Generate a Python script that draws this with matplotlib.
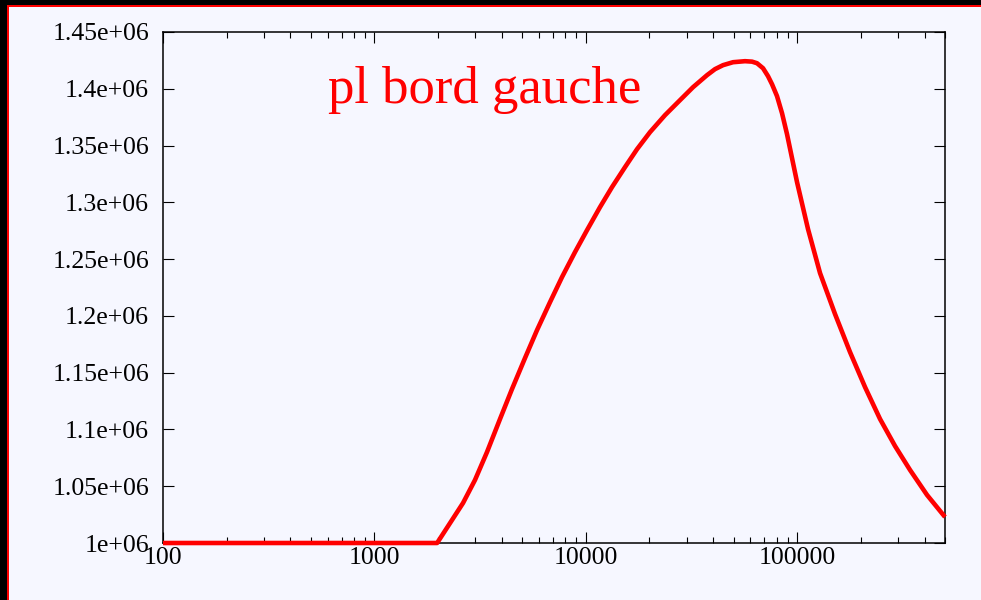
import numpy as np
import matplotlib.pyplot as plt
from matplotlib.patches import Rectangle
from matplotlib.ticker import FixedLocator, LogLocator, NullFormatter

# left-edge pressure profile (x on log scale)
x_vals = [100, 1980, 2280, 2625, 2991, 3409, 3928, 4476, 5157, 5878, 6771,
          7717, 8890, 10132, 11673, 13302, 15325, 17467, 20120, 23695, 27900,
          32146, 37441, 40845, 44571, 49700, 56628, 61128, 64540, 68900,
          72750, 76000, 80250, 84740, 89480, 94490, 99780, 112480, 128190,
          150940, 177730, 209280, 246400, 290150, 341650, 411100, 500000]
p_vals = [1.0e6, 1.0e6, 1.0176e6, 1.0352e6, 1.0555e6, 1.0801e6, 1.1092e6,
          1.1356e6, 1.1629e6, 1.1875e6, 1.2121e6, 1.2342e6, 1.2562e6,
          1.2755e6, 1.2958e6, 1.3134e6, 1.3310e6, 1.3468e6, 1.3618e6,
          1.3768e6, 1.3900e6, 1.4014e6, 1.4120e6, 1.4173e6, 1.4208e6,
          1.4234e6, 1.4243e6, 1.4239e6, 1.4225e6, 1.4181e6, 1.4111e6,
          1.4040e6, 1.3935e6, 1.3785e6, 1.3600e6, 1.3389e6, 1.3178e6,
          1.2764e6, 1.2377e6, 1.2016e6, 1.1681e6, 1.1373e6, 1.1092e6,
          1.0854e6, 1.0643e6, 1.0423e6, 1.0229e6]

y_ticks = [1.0e6, 1.05e6, 1.1e6, 1.15e6, 1.2e6, 1.25e6, 1.3e6, 1.35e6, 1.4e6, 1.45e6]
y_labels = ['1e+06', '1.05e+06', '1.1e+06', '1.15e+06', '1.2e+06', '1.25e+06',
            '1.3e+06', '1.35e+06', '1.4e+06', '1.45e+06']
x_ticks = [100, 1000, 10000, 100000]
x_labels = ['100', '1000', '10000', '100000']

bg = '#f6f7ff'
plt.rcParams['font.family'] = ['Liberation Serif', 'DejaVu Serif']

fig = plt.figure(figsize=(9.81, 6.0), dpi=100, facecolor=bg)
W, H = 981, 600
# dark frame on the top and left edges with a thin red inner line
fig.add_artist(Rectangle((0, 0), 7 / W, 1, transform=fig.transFigure, color='black', lw=0))
fig.add_artist(Rectangle((0, 1 - 5 / H), 1, 5 / H, transform=fig.transFigure, color='black', lw=0))
fig.add_artist(Rectangle((7 / W, 0), 2 / W, 1 - 5 / H, transform=fig.transFigure, color='red', lw=0))
fig.add_artist(Rectangle((7 / W, 1 - 7 / H), 1 - 7 / W, 2 / H, transform=fig.transFigure, color='red', lw=0))

ax = fig.add_axes([163 / W, 1 - 543 / H, (945 - 163) / W, (543 - 32) / H])
ax.set_facecolor(bg)
ax.plot(x_vals, p_vals, color='red', lw=3.3, solid_joinstyle='round',
        solid_capstyle='butt', clip_on=False, zorder=5)

ax.set_xscale('log')
ax.set_xlim(100, 500000)
ax.set_ylim(1.0e6, 1.45e6)

ax.xaxis.set_major_locator(FixedLocator(x_ticks))
ax.set_xticklabels(x_labels)
ax.xaxis.set_minor_locator(LogLocator(base=10, subs=np.arange(2, 10)))
ax.xaxis.set_minor_formatter(NullFormatter())
ax.set_yticks(y_ticks)
ax.set_yticklabels(y_labels)

for s in ax.spines.values():
    s.set_linewidth(1.1)
    s.set_color('black')
ax.tick_params(which='both', direction='in', top=True, right=True, width=0.8, colors='black')
ax.tick_params(which='major', length=8, labelsize=18.5)
ax.tick_params(which='minor', length=4)
ax.tick_params(axis='y', pad=10)
ax.tick_params(axis='x', pad=3)

ax.text(0.412, 0.861, 'pl bord gauche', transform=ax.transAxes, color='red',
        fontsize=38, ha='center', va='baseline')

fig.savefig('out.png', dpi=100, facecolor=bg)
